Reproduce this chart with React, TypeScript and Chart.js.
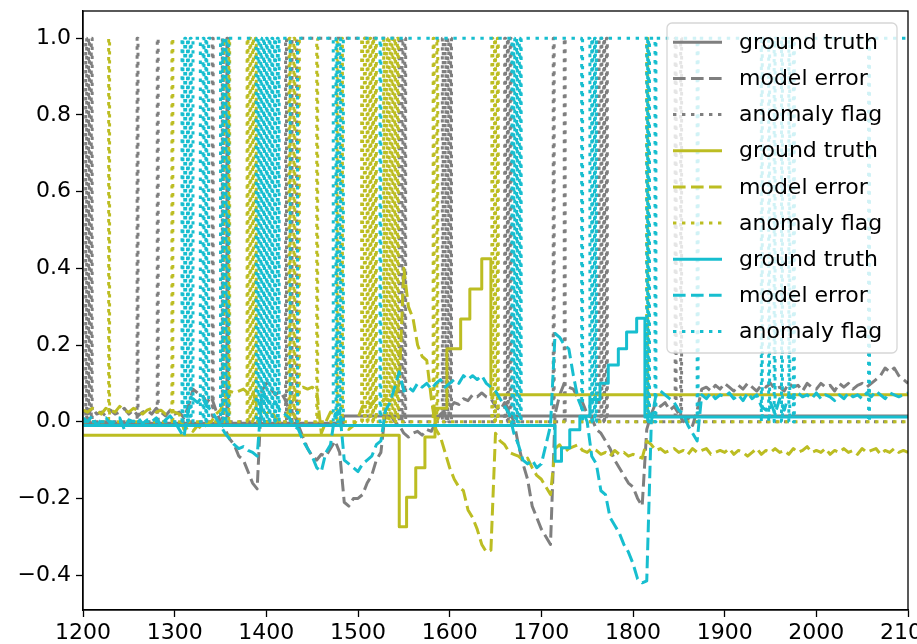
import { useEffect, useRef } from 'react';
import { Chart, registerables } from 'chart.js';

Chart.register(...registerables);

const xTicks = [1200, 1300, 1400, 1500, 1600, 1700, 1800, 1900, 2000, 2100];
const yTicks = [-0.4, -0.2, 0.0, 0.2, 0.4, 0.6, 0.8, 1.0];

const errX = [
  1200, 1205, 1210, 1215, 1220, 1225, 1230, 1235, 1240, 1245,
  1250, 1255, 1260, 1265, 1270, 1275, 1280, 1285, 1290, 1295,
  1300, 1305, 1310, 1315, 1320, 1325, 1330, 1335, 1340, 1345,
  1350, 1355, 1360, 1365, 1370, 1375, 1380, 1385, 1390, 1395,
  1400, 1405, 1410, 1415, 1420, 1425, 1430, 1435, 1440, 1445,
  1450, 1455, 1460, 1465, 1470, 1475, 1480, 1485, 1490, 1495,
  1500, 1505, 1510, 1515, 1520, 1525, 1530, 1535, 1540, 1545,
  1550, 1555, 1560, 1565, 1570, 1575, 1580, 1585, 1590, 1595,
  1600, 1605, 1610, 1615, 1620, 1625, 1630, 1635, 1640, 1645,
  1650, 1655, 1660, 1665, 1670, 1675, 1680, 1685, 1690, 1695,
  1700, 1705, 1710, 1715, 1720, 1725, 1730, 1735, 1740, 1745,
  1750, 1755, 1760, 1765, 1770, 1775, 1780, 1785, 1790, 1795,
  1800, 1805, 1810, 1815, 1820, 1825, 1830, 1835, 1840, 1845,
  1850, 1855, 1860, 1865, 1870, 1875, 1880, 1885, 1890, 1895,
  1900, 1905, 1910, 1915, 1920, 1925, 1930, 1935, 1940, 1945,
  1950, 1955, 1960, 1965, 1970, 1975, 1980, 1985, 1990, 1995,
  2000, 2005, 2010, 2015, 2020, 2025, 2030, 2035, 2040, 2045,
  2050, 2055, 2060, 2065, 2070, 2075, 2080, 2085, 2090, 2095,
  2100,
];

const grayErr = [
  0.03, 0.02, 0.035, 0.02, 0.025, 0.015, 0.03, 0.02, 0.025, 0.035,
  0.02, 0.03, 0.015, 0.025, 0.03, 0.02, 0.035, 0.025, 0.015, 0.03,
  0.02, 0.025, 0.01, 0.04, 0.085, 0.075, 0.07, 0.05, 0.065, 0.03,
  0.0, -0.02, -0.045, -0.06, -0.09, -0.1, -0.13, -0.16, -0.175, 0.08,
  0.1, 0.085, 0.07, 0.08, 0.06, 0.03, 0.02, -0.01, -0.04, -0.07,
  -0.09, -0.1, -0.085, -0.09, -0.07, -0.05, -0.08, -0.21, -0.22, -0.2,
  -0.2, -0.19, -0.16, -0.14, -0.1, -0.08, 0.03, 0.02, 0.0, -0.01,
  -0.03, -0.04, -0.03, -0.025, -0.035, -0.02, -0.025, 0.0, 0.02, 0.03,
  0.035, 0.05, 0.045, 0.06, 0.055, 0.07, 0.065, 0.075, 0.065, 0.06,
  0.04, 0.03, 0.05, 0.03, 0.0, -0.06, -0.11, -0.15, -0.22, -0.25,
  -0.28, -0.3, -0.32, 0.02, 0.07, 0.1, 0.09, 0.085, 0.06, 0.05,
  0.02, 0.01, -0.02, -0.03, -0.05, -0.07, -0.1, -0.12, -0.14, -0.16,
  -0.17, -0.2, -0.22, -0.02, 0.02, 0.05, 0.04, 0.05, 0.03, 0.04,
  0.02, 0.0, 0.01, -0.01, 0.03, 0.085, 0.09, 0.08, 0.095, 0.085,
  0.1, 0.09, 0.08, 0.095, 0.085, 0.1, 0.09, 0.08, 0.095, 0.09,
  0.1, 0.085, 0.09, 0.08, 0.1, 0.09, 0.095, 0.08, 0.1, 0.09,
  0.085, 0.1, 0.09, 0.095, 0.08, 0.1, 0.09, 0.1, 0.085, 0.095,
  0.1, 0.09, 0.1, 0.11, 0.12, 0.14, 0.13, 0.14, 0.12, 0.11,
  0.1,
];

const oliveErr = [
  0.03, 0.025, 0.035, 0.03, 0.02, 0.035, 0.03, 0.025, 0.04, 0.03,
  0.025, 0.035, 0.03, 0.02, 0.03, 0.035, 0.025, 0.03, 0.02, 0.03,
  0.025, 0.02, -0.02, -0.015, -0.025, -0.01, -0.02, -0.005, 0.0, 0.02,
  0.03, 0.06, 0.08, 0.075, 0.08, 0.085, 0.075, 0.08, 0.04, 0.03,
  0.02, 0.03, 0.01, 0.0, 0.01, 0.03, 0.06, 0.085, 0.09, 0.085,
  0.09, 0.08, -0.03, 0.0, 0.025, 0.02, -0.01, -0.015, -0.02, -0.01,
  0.01, 0.04, 0.05, 0.045, 0.06, 0.05, 0.06, 0.055, 0.06, 0.1,
  0.4, 0.3, 0.27, 0.2, 0.17, 0.16, 0.06, -0.02, -0.04, -0.08,
  -0.12, -0.15, -0.17, -0.18, -0.23, -0.25, -0.28, -0.32, -0.34, -0.335,
  -0.03, -0.05, -0.06, -0.08, -0.085, -0.09, -0.1, -0.095, -0.12, -0.14,
  -0.15, -0.17, -0.19, -0.07, -0.06, -0.08, -0.07, -0.065, -0.06, -0.075,
  -0.08, -0.07, -0.075, -0.085, -0.08, -0.09, -0.075, -0.085, -0.08, -0.09,
  -0.085, -0.09, -0.095, -0.05, -0.06, -0.075, -0.07, -0.08, -0.075, -0.07,
  -0.08, -0.075, -0.085, -0.07, -0.08, -0.075, -0.07, -0.085, -0.08, -0.075,
  -0.08, -0.07, -0.085, -0.075, -0.08, -0.09, -0.08, -0.07, -0.085, -0.075,
  -0.08, -0.07, -0.08, -0.075, -0.085, -0.07, -0.08, -0.075, -0.065, -0.08,
  -0.075, -0.08, -0.07, -0.085, -0.075, -0.08, -0.07, -0.08, -0.075, -0.085,
  -0.07, -0.08, -0.075, -0.07, -0.085, -0.075, -0.08, -0.07, -0.08, -0.075,
  -0.08,
];

const cyanErr = [
  0.01, 0.0, 0.015, -0.01, 0.005, 0.01, -0.005, 0.0, 0.01, -0.02,
  0.005, 0.0, 0.01, -0.005, 0.005, 0.0, 0.01, -0.01, 0.005, 0.015,
  0.0, -0.02, -0.04, 0.03, 0.06, 0.05, 0.065, 0.04, 0.03, 0.01,
  -0.01, -0.03, -0.045, -0.06, -0.07, -0.065, -0.075, -0.08, -0.09, 0.07,
  0.06, 0.04, 0.05, 0.03, 0.02, 0.01, -0.01, -0.02, -0.05, -0.07,
  -0.09, -0.12, -0.13, -0.08, -0.06, 0.02, 0.03, -0.1, -0.11, -0.12,
  -0.13, -0.11, -0.1, -0.09, -0.06, -0.05, 0.03, 0.05, 0.09, 0.13,
  0.08, 0.09, 0.08, 0.1, 0.09, 0.1, 0.085, 0.1, 0.11, 0.09,
  0.1, 0.11, 0.1, 0.12, 0.11, 0.12, 0.11, 0.12, 0.1, 0.09,
  0.08, 0.06, 0.04, 0.02, -0.03, -0.06, -0.1, -0.11, -0.1, -0.12,
  -0.11, -0.06, -0.01, 0.23, 0.22, 0.2, 0.19, 0.12, 0.06, 0.03,
  0.0, -0.09, -0.11, -0.18, -0.19, -0.25, -0.27, -0.29, -0.32, -0.34,
  -0.37, -0.41, -0.42, -0.415, 0.0, 0.07, 0.08, 0.07, 0.06, 0.05,
  0.03, 0.02, -0.01, -0.03, -0.05, 0.07, 0.06, 0.075, 0.06, 0.07,
  0.065, 0.075, 0.06, 0.07, 0.055, 0.075, 0.06, 0.07, 0.04, 0.03,
  0.05, 0.02, 0.06, 0.03, 0.07, 0.06, 0.075, 0.065, 0.07, 0.06,
  0.075, 0.06, 0.07, 0.065, 0.055, 0.07, 0.06, 0.075, 0.065, 0.07,
  0.06, 0.075, 0.065, 0.08, 0.07, 0.06, 0.075, 0.07, 0.065, 0.07,
  0.075,
];

// ground truth step functions: breakpoints and level of each segment
const grayTruthX = [1200, 1484, 2100];
const grayTruthY = [-0.004, 0.015];
const oliveTruthX = [1200, 1545, 1553, 1563, 1573, 1584, 1597, 1612, 1622, 1635, 1645, 2100];
const oliveTruthY = [-0.035, -0.274, -0.197, -0.12, -0.04, 0.035, 0.19, 0.268, 0.346, 0.425, 0.07];
const cyanTruthX = [1200, 1715, 1722, 1731, 1742, 1753, 1764, 1773, 1784, 1793, 1804, 1813, 2100];
const cyanTruthY = [-0.01, -0.103, -0.068, -0.021, 0.014, 0.058, 0.1, 0.148, 0.19, 0.234, 0.27, 0.012];

// anomaly flag: intervals where the flag equals 1
const grayFlagOn = [
  [1203, 1204], [1206, 1207], [1209, 1210],
  [1259, 1260], [1281, 1282], [1341, 1342],
  [1352, 1353], [1357, 1358],
  [1421, 1422], [1427, 1428],
  [1433, 1545], [1548, 1549], [1551, 1552],
  [1592, 1593], [1595, 1596], [1598, 1599], [1601, 1602],
  [1660, 1661], [1663, 1664], [1666, 1667],
  [1713, 1714], [1725, 1726],
  [1762, 1763], [1765, 1766], [1768, 1769], [1771, 1772],
  [1846, 1847], [1852, 1853],
];
const oliveFlagOn = [
  [1228, 1229], [1297, 1298],
  [1354, 1355], [1359, 1360],
  [1379, 1380], [1382, 1383], [1385, 1386], [1388, 1389],
  [1425, 1426], [1430, 1431], [1435, 1436],
  [1455, 1456],
  [1477, 1478], [1482, 1483],
  [1504, 1505], [1507, 1508], [1510, 1511], [1513, 1514], [1516, 1517], [1519, 1520],
  [1528, 1529], [1531, 1532], [1534, 1535], [1537, 1538], [1540, 1541], [1543, 1544],
  [1582, 1583], [1586, 1587],
  [1646, 1647], [1649, 1650], [1652, 1653],
  [1815, 1816],
];
const cyanFlagOn = [
  [1308, 1309], [1311, 1312], [1314, 1315], [1317, 1318],
  [1320, 1328], [1331, 1332], [1334, 1335],
  [1337, 1350], [1352, 1353], [1356, 1357],
  [1359, 1389], [1391, 1392], [1394, 1395], [1397, 1398], [1400, 1401],
  [1403, 1404], [1406, 1407], [1409, 1410], [1412, 1413],
  [1414, 1426],
  [1434, 1473], [1476, 1477], [1480, 1481],
  [1484, 1524], [1525, 1668], [1670, 1671], [1673, 1674], [1676, 1677],
  [1678, 1744], [1745, 1753], [1755, 1756], [1758, 1759],
  [1760, 1815], [1816, 1817], [1818, 1824], [1825, 1870], [1871, 1940],
  [1941, 1948], [1949, 1954], [1955, 1962], [1963, 1970], [1971, 1975],
  [1976, 2057], [2058, 2100],
];

const GRAY = '#7f7f7f';
const OLIVE = '#bcbd22';
const CYAN = '#17becf';
const SOLID: number[] = [];
const DASHED = [12.6, 5.4];
const DOTTED = [3.4, 5.6];
const FONT = '"DejaVu Sans", "Liberation Sans", sans-serif';

function stepPoints(xs: number[], ys: number[]) {
  const pts: { x: number; y: number }[] = [];
  for (let i = 0; i < ys.length; i++) {
    pts.push({ x: xs[i], y: ys[i] });
    pts.push({ x: xs[i + 1], y: ys[i] });
  }
  return pts;
}

function linePoints(xs: number[], ys: number[]) {
  return xs.map((x, i) => ({ x, y: ys[i] }));
}

function flagPoints(on: number[][]) {
  const pts: { x: number; y: number }[] = [{ x: 1200, y: 0 }];
  let last = 0;
  for (const [a, b] of on) {
    pts.push({ x: a, y: 0 }, { x: a, y: 1 }, { x: b, y: 1 });
    if (b < 2100) pts.push({ x: b, y: 0 });
    last = b;
  }
  if (last < 2100) pts.push({ x: 2100, y: 0 });
  return pts;
}

const legendPlugin = {
  id: 'mplLegend',
  afterDatasetsDraw(chart: any) {
    const ctx = chart.ctx as CanvasRenderingContext2D;
    const area = chart.chartArea;
    ctx.save();
    ctx.strokeStyle = '#000';
    ctx.lineWidth = 1.3;
    ctx.setLineDash([]);
    ctx.strokeRect(area.left, area.top, area.right - area.left, area.bottom - area.top);
    const x0 = 667, y0 = 23, w = 230, h = 330;
    ctx.beginPath();
    if ((ctx as any).roundRect) (ctx as any).roundRect(x0, y0, w, h, 5);
    else ctx.rect(x0, y0, w, h);
    ctx.fillStyle = 'rgba(255,255,255,0.8)';
    ctx.fill();
    ctx.strokeStyle = 'rgba(204,204,204,0.8)';
    ctx.lineWidth = 1.3;
    ctx.stroke();
    const ds = chart.data.datasets;
    ctx.font = '22px ' + FONT;
    ctx.textBaseline = 'middle';
    ctx.textAlign = 'left';
    for (let i = 0; i < ds.length; i++) {
      const cy = 42.3 + i * 36.15;
      ctx.beginPath();
      ctx.setLineDash(ds[i].borderDash || []);
      ctx.strokeStyle = ds[i].borderColor;
      ctx.lineWidth = 3;
      ctx.moveTo(673, cy);
      ctx.lineTo(722, cy);
      ctx.stroke();
      ctx.setLineDash([]);
      ctx.fillStyle = '#000';
      ctx.fillText(ds[i].label, 739, cy + 1);
    }
    ctx.restore();
  },
};

export default function App() {
  const ref = useRef<HTMLCanvasElement | null>(null);

  useEffect(() => {
    if (!ref.current) return;
    const specs = [
      { label: 'ground truth', data: stepPoints(grayTruthX, grayTruthY), color: GRAY, dash: SOLID },
      { label: 'model error', data: linePoints(errX, grayErr), color: GRAY, dash: DASHED },
      { label: 'anomaly flag', data: flagPoints(grayFlagOn), color: GRAY, dash: DOTTED },
      { label: 'ground truth', data: stepPoints(oliveTruthX, oliveTruthY), color: OLIVE, dash: SOLID },
      { label: 'model error', data: linePoints(errX, oliveErr), color: OLIVE, dash: DASHED },
      { label: 'anomaly flag', data: flagPoints(oliveFlagOn), color: OLIVE, dash: DOTTED },
      { label: 'ground truth', data: stepPoints(cyanTruthX, cyanTruthY), color: CYAN, dash: SOLID },
      { label: 'model error', data: linePoints(errX, cyanErr), color: CYAN, dash: DASHED },
      { label: 'anomaly flag', data: flagPoints(cyanFlagOn), color: CYAN, dash: DOTTED },
    ];
    const datasets = specs.map((s, i) => ({
      label: s.label,
      data: s.data,
      borderColor: s.color,
      backgroundColor: s.color,
      borderWidth: 3,
      borderDash: s.dash,
      borderCapStyle: 'butt',
      borderJoinStyle: 'round',
      pointRadius: 0,
      fill: false,
      tension: 0,
      order: specs.length - i,
    }));
    const tickFont = { family: FONT, size: 22 };
    const chart = new Chart(ref.current, {
      type: 'line',
      data: { datasets: datasets as any },
      plugins: [legendPlugin],
      options: {
        responsive: false,
        animation: false,
        devicePixelRatio: 1,
        events: [],
        parsing: false,
        layout: { padding: { left: 0, top: 11, right: 42, bottom: 0 } },
        plugins: { legend: { display: false }, tooltip: { enabled: false } },
        scales: {
          x: {
            type: 'linear',
            min: 1200,
            max: 2100,
            afterBuildTicks: (s: any) => {
              s.ticks = xTicks.map((v) => ({ value: v }));
            },
            afterFit: (s: any) => {
              s.height = 34;
              s.paddingLeft = 0;
              s.paddingRight = 0;
            },
            ticks: {
              autoSkip: false,
              maxRotation: 0,
              minRotation: 0,
              padding: 3,
              color: '#000',
              font: tickFont,
              callback: (v: any) => String(v),
            },
            grid: { drawOnChartArea: false, drawTicks: true, tickLength: 7, tickColor: '#000', tickWidth: 1.3 },
            border: { display: true, color: '#000', width: 1.3 },
          },
          y: {
            type: 'linear',
            min: -0.491,
            max: 1.071,
            afterBuildTicks: (s: any) => {
              s.ticks = yTicks.map((v) => ({ value: v }));
            },
            afterFit: (s: any) => {
              s.width = 83;
              s.paddingTop = 0;
              s.paddingBottom = 0;
            },
            ticks: {
              autoSkip: false,
              padding: 5,
              color: '#000',
              font: tickFont,
              callback: (v: any) => (v < -1e-9 ? '\u2212' : '') + Math.abs(v).toFixed(1),
            },
            grid: { drawOnChartArea: false, drawTicks: true, tickLength: 7, tickColor: '#000', tickWidth: 1.3 },
            border: { display: true, color: '#000', width: 1.3 },
          },
        },
      } as any,
    });
    return () => chart.destroy();
  }, []);

  return (
    <div
      style={{
        position: 'fixed',
        left: 0,
        top: 0,
        width: 917,
        height: 644,
        overflow: 'hidden',
        background: '#fff',
      }}
    >
      <canvas ref={ref} width={950} height={644} style={{ display: 'block', width: 950, height: 644 }} />
    </div>
  );
}
